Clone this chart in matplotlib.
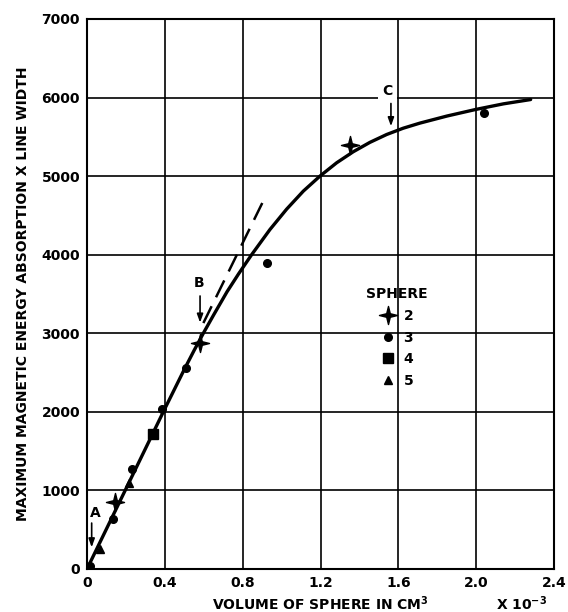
import numpy as np
import matplotlib
matplotlib.use("Agg")
import matplotlib.pyplot as plt
from matplotlib.path import Path
from matplotlib.markers import MarkerStyle

# ---------------- data (volume in 1e-3 cm^3, absorption x line width) -------------
sphere2_x = [0.145, 0.58, 1.35]
sphere2_y = [850, 2880, 5390]

sphere3_x = [0.015, 0.135, 0.23, 0.383, 0.51, 0.923, 2.04]
sphere3_y = [40, 635, 1275, 2040, 2560, 3890, 5800]

sphere4_x = [0.34]
sphere4_y = [1720]

sphere5_x = [0.065, 0.218]
sphere5_y = [255, 1090]

curve_x = [0.0, 0.1, 0.2, 0.3, 0.4, 0.45, 0.5, 0.55, 0.6, 0.65, 0.72, 0.78, 0.846,
           0.94, 1.026, 1.112, 1.197, 1.283, 1.368, 1.454, 1.54, 1.625, 1.711,
           1.85, 2.0, 2.14, 2.28]
curve_y = [0, 510, 1020, 1530, 2040, 2290, 2540, 2780, 3010, 3230, 3530, 3760, 4000,
           4320, 4580, 4810, 5000, 5170, 5310, 5430, 5530, 5610, 5675,
           5765, 5850, 5920, 5975]

tangent_x = [0.598, 0.915]
tangent_y = [3130, 4730]

x_ticks = [0, 0.4, 0.8, 1.2, 1.6, 2.0, 2.4]
x_ticklabels = ["0", "0.4", "0.8", "1.2", "1.6", "2.0", "2.4"]
y_ticks = [0, 1000, 2000, 3000, 4000, 5000, 6000, 7000]
y_ticklabels = ["0", "1000", "2000", "3000", "4000", "5000", "6000", "7000"]

# annotation arrows: label, x, label y (centre), arrow start y, arrow end y
marks_label = ["A", "B", "C"]
marks_x = [0.024, 0.581, 1.562]
marks_text_x = [0.041, 0.578, 1.543]
marks_text_y = [716, 3643, 6085]
marks_arrow_top = [620, 3510, 5960]
marks_arrow_bot = [240, 3100, 5600]

# ---------------- figure ----------------
plt.rcParams['font.family'] = ['DejaVu Sans']
plt.rcParams['font.weight'] = 'bold'
plt.rcParams['mathtext.default'] = 'bf'

fig = plt.figure(figsize=(5.68, 6.12), dpi=100)
ax = fig.add_axes([87 / 568, 43 / 612, 467 / 568, 550 / 612])

ax.set_xlim(0, 2.4)
ax.set_ylim(0, 7000)
ax.set_xticks(x_ticks)
ax.set_xticklabels(x_ticklabels)
ax.set_yticks(y_ticks)
ax.set_yticklabels(y_ticklabels)
ax.tick_params(length=0, labelsize=10, pad=5)
for lab in ax.get_xticklabels() + ax.get_yticklabels():
    lab.set_fontweight('bold')
ax.grid(True, color='black', linewidth=1.2)
ax.set_axisbelow(True)
for s in ax.spines.values():
    s.set_linewidth(1.5)

ax.plot(curve_x, curve_y, color='black', linewidth=2.4, solid_capstyle='round',
        zorder=3)
ax.plot(tangent_x, tangent_y, color='black', linewidth=1.8, dashes=(7.5, 4),
        zorder=3)

star_path = Path.unit_regular_star(4, 0.28)
star = MarkerStyle(star_path)

h2, = ax.plot(sphere2_x, sphere2_y, linestyle='none', marker=star, markersize=13,
              color='black', label='2', zorder=4)
h3, = ax.plot(sphere3_x, sphere3_y, linestyle='none', marker='o', markersize=5.5,
              color='black', label='3', zorder=4)
h4, = ax.plot(sphere4_x, sphere4_y, linestyle='none', marker='s', markersize=6.5,
              color='black', label='4', zorder=4)
h5, = ax.plot(sphere5_x, sphere5_y, linestyle='none', marker='^', markersize=6,
              color='black', label='5', zorder=4)

leg = ax.legend(handles=[h2, h3, h4, h5], title='SPHERE', frameon=False,
                loc='upper left', bbox_to_anchor=(0.576, 0.53),
                fontsize=10, title_fontsize=10, labelspacing=0.55,
                handlelength=1.2, handletextpad=0.5, borderpad=0.2)
leg.get_title().set_fontweight('bold')
for t in leg.get_texts():
    t.set_fontweight('bold')

for lab, x, tx, ty, a0, a1 in zip(marks_label, marks_x, marks_text_x, marks_text_y,
                                   marks_arrow_top, marks_arrow_bot):
    ax.annotate('', xy=(x, a1), xytext=(x, a0),
                arrowprops=dict(arrowstyle='-|>,head_length=0.5,head_width=0.18',
                                color='black', linewidth=1.2), zorder=5)
    bb = dict(facecolor='white', edgecolor='none', pad=3) if lab == 'C' else None
    ax.text(tx, ty, lab, ha='center', va='center', fontsize=10,
            fontweight='bold', zorder=5, bbox=bb)

ax.set_ylabel('MAXIMUM MAGNETIC ENERGY ABSORPTION X LINE WIDTH', fontsize=10,
              fontweight='bold', labelpad=8)
fig.text(320 / 568, 1 - 604 / 612, 'VOLUME OF SPHERE IN CM$^{3}$', ha='center',
         va='center', fontsize=10, fontweight='bold')
fig.text(522 / 568, 1 - 604 / 612, 'X 10$^{-3}$', ha='center', va='center',
         fontsize=10, fontweight='bold')

fig.savefig('out.png', dpi=100, facecolor='white')
